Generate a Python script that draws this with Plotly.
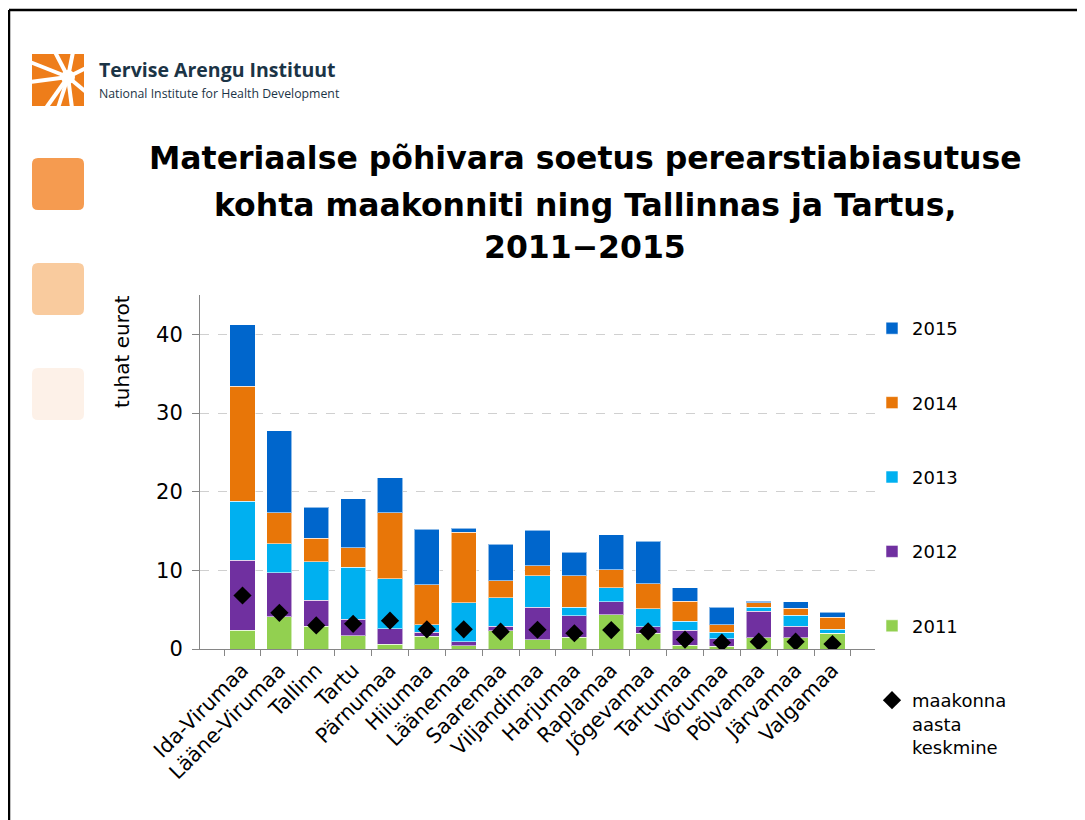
import plotly.graph_objects as go

# Data (thousand euros)
counties = ["Ida-Virumaa", "Lääne-Virumaa", "Tallinn", "Tartu", "Pärnumaa", "Hiiumaa",
            "Läänemaa", "Saaremaa", "Viljandimaa", "Harjumaa", "Raplamaa", "Jõgevamaa",
            "Tartumaa", "Võrumaa", "Põlvamaa", "Järvamaa", "Valgamaa"]
y2011 = [2.4, 4.1, 2.9, 1.7, 0.6, 1.6, 0.4, 2.3, 1.2, 1.5, 4.35, 2.0, 0.5, 0.35, 1.4, 1.4, 2.0]
y2012 = [8.9, 5.6, 3.3, 2.1, 2.0, 0.5, 0.5, 0.6, 4.1, 2.7, 1.65, 0.8, 1.9, 0.95, 3.4, 1.5, 0.0]
y2013 = [7.5, 3.7, 4.9, 6.6, 6.3, 1.0, 5.0, 3.6, 4.0, 1.1, 1.8, 2.3, 1.1, 0.8, 0.5, 1.4, 0.5]
y2014 = [14.6, 3.9, 3.0, 2.5, 8.4, 5.05, 8.95, 2.2, 1.3, 4.0, 2.3, 3.2, 2.6, 1.0, 0.6, 0.9, 1.55]
y2015 = [7.8, 10.45, 3.9, 6.2, 4.5, 7.1, 0.5, 4.6, 4.5, 3.0, 4.4, 5.4, 1.7, 2.2, 0.2, 0.8, 0.65]
yearly_avg = [6.8, 4.6, 3.0, 3.2, 3.6, 2.5, 2.5, 2.2, 2.45, 2.0, 2.4, 2.25, 1.2, 0.8, 0.93, 0.93, 0.63]

years = ["2011", "2012", "2013", "2014", "2015"]
series = [y2011, y2012, y2013, y2014, y2015]
colors = ["#92D050", "#7030A0", "#00B0F0", "#E87608", "#0066CC"]

W, H = 1085, 820
OFF = 8  # page body margin offsets the figure
L, R, T, B = 200 - OFF, 1085 - 875 + OFF, 295 - OFF, 820 - 649 + OFF
PW, PH = W - L - R, H - T - B
FONT = "DejaVu Sans"


def px(x):
    return (x - OFF - L) / PW


def py(y):
    return (H - B - (y - OFF)) / PH


def rounded_rect(x0, y0, x1, y1, r):
    # rounded rectangle path in paper coords, given screen pixel corners
    rx, ry = r / PW, r / PH
    a, b, c, d = px(x0), py(y1), px(x1), py(y0)
    return (f"M{a + rx},{b} L{c - rx},{b} Q{c},{b} {c},{b + ry} L{c},{d - ry} "
            f"Q{c},{d} {c - rx},{d} L{a + rx},{d} Q{a},{d} {a},{d - ry} "
            f"L{a},{b + ry} Q{a},{b} {a + rx},{b} Z")


fig = go.Figure()

for i, (yr, vals, col) in enumerate(zip(years, series, colors)):
    fig.add_trace(go.Bar(
        x=counties, y=vals, name=yr,
        marker=dict(color=col, line=dict(color="rgba(255,255,255,0.55)", width=1)),
        legendgroup=yr, legendrank=10 - i,
    ))

fig.add_trace(go.Scatter(
    x=counties, y=yearly_avg, mode="markers",
    name="maakonna<br>aasta<br>keskmine",
    marker=dict(symbol="diamond", size=14, color="black"),
    legendgroup="avg", legendrank=20,
))

shapes = []
# slide frame
shapes.append(dict(type="line", xref="paper", yref="paper",
                   x0=px(9), x1=px(W + 20), y0=py(10), y1=py(10),
                   line=dict(color="black", width=2.5)))
shapes.append(dict(type="line", xref="paper", yref="paper",
                   x0=px(9), x1=px(9), y0=py(10), y1=py(H + 20),
                   line=dict(color="black", width=2.5)))
# decorative squares on the left
for y0, col in [(158, "#F59B50"), (263, "#F9CB9E"), (368, "#FDF1E8")]:
    shapes.append(dict(type="path", xref="paper", yref="paper",
                       path=rounded_rect(32, y0, 84, y0 + 52, 6),
                       fillcolor=col, line=dict(width=0)))
# logo icon: orange square with white rays
shapes.append(dict(type="rect", xref="paper", yref="paper",
                   x0=px(32), x1=px(84), y0=py(106), y1=py(54),
                   fillcolor="#EE7D1A", line=dict(width=0)))
cx, cy = 68, 77
for ex, ey in [(30, 82), (30, 62), (55, 52), (73, 52), (86, 68), (86, 92), (72, 108), (58, 108), (46, 108)]:
    shapes.append(dict(type="line", xref="paper", yref="paper",
                       x0=px(cx), y0=py(cy), x1=px(ex), y1=py(ey),
                       line=dict(color="white", width=4)))
shapes.append(dict(type="circle", xref="paper", yref="paper",
                   x0=px(cx - 7), x1=px(cx + 7), y0=py(cy + 7), y1=py(cy - 7),
                   fillcolor="white", line=dict(width=0)))

annotations = [
    dict(text="<b>Tervise Arengu Instituut</b>", x=px(97), y=py(70), xref="paper", yref="paper",
         xanchor="left", yanchor="middle", showarrow=False,
         font=dict(family="Open Sans", size=19.5, color="#1B3446")),
    dict(text="National Institute for Health Development", x=px(97), y=py(93), xref="paper", yref="paper",
         xanchor="left", yanchor="middle", showarrow=False,
         font=dict(family="Open Sans", size=12.3, color="#1B3446")),
    dict(text="tuhat eurot", x=px(122), y=py(352), xref="paper", yref="paper",
         textangle=-90, showarrow=False, xanchor="center", yanchor="middle",
         font=dict(family=FONT, size=20, color="black")),
]
for txt, yy in [("Materiaalse põhivara soetus perearstiabiasutuse", 158),
                ("kohta maakonniti ning Tallinnas ja Tartus,", 205),
                ("2011−2015", 247)]:
    annotations.append(dict(text=f"<b>{txt}</b>", x=px(585), y=py(yy), xref="paper", yref="paper",
                            xanchor="center", yanchor="middle", showarrow=False,
                            font=dict(family=FONT, size=31.5, color="black")))

fig.update_layout(
    width=W, height=H,
    margin=dict(l=L, r=R, t=T, b=B, autoexpand=False),
    paper_bgcolor="white", plot_bgcolor="white",
    barmode="stack", bargap=0.32,
    font=dict(family=FONT, color="black"),
    shapes=shapes,
    annotations=annotations,
    legend=dict(
        x=px(872), y=py(310), xanchor="left", yanchor="top",
        traceorder="grouped", tracegroupgap=48, valign="top",
        maxheight=700,
        font=dict(family=FONT, size=18, color="black"),
        bgcolor="rgba(0,0,0,0)",
    ),
    xaxis=dict(
        showline=True, linecolor="#868686", linewidth=1,
        ticks="outside", tickson="boundaries", ticklen=6, tickcolor="#868686",
        tickangle=-45, tickfont=dict(family=FONT, size=20.5, color="black"),
        showgrid=False,
    ),
    yaxis=dict(
        range=[0, 45], tickvals=[0, 10, 20, 30, 40],
        showline=True, linecolor="#868686", linewidth=1,
        ticks="outside", ticklen=7, tickcolor="#868686", ticklabelstandoff=5,
        showgrid=True, gridcolor="#D0D0D0", griddash="dash", gridwidth=1,
        tickfont=dict(family=FONT, size=21, color="black"),
        zeroline=False,
    ),
)

fig.write_html("out.html")
